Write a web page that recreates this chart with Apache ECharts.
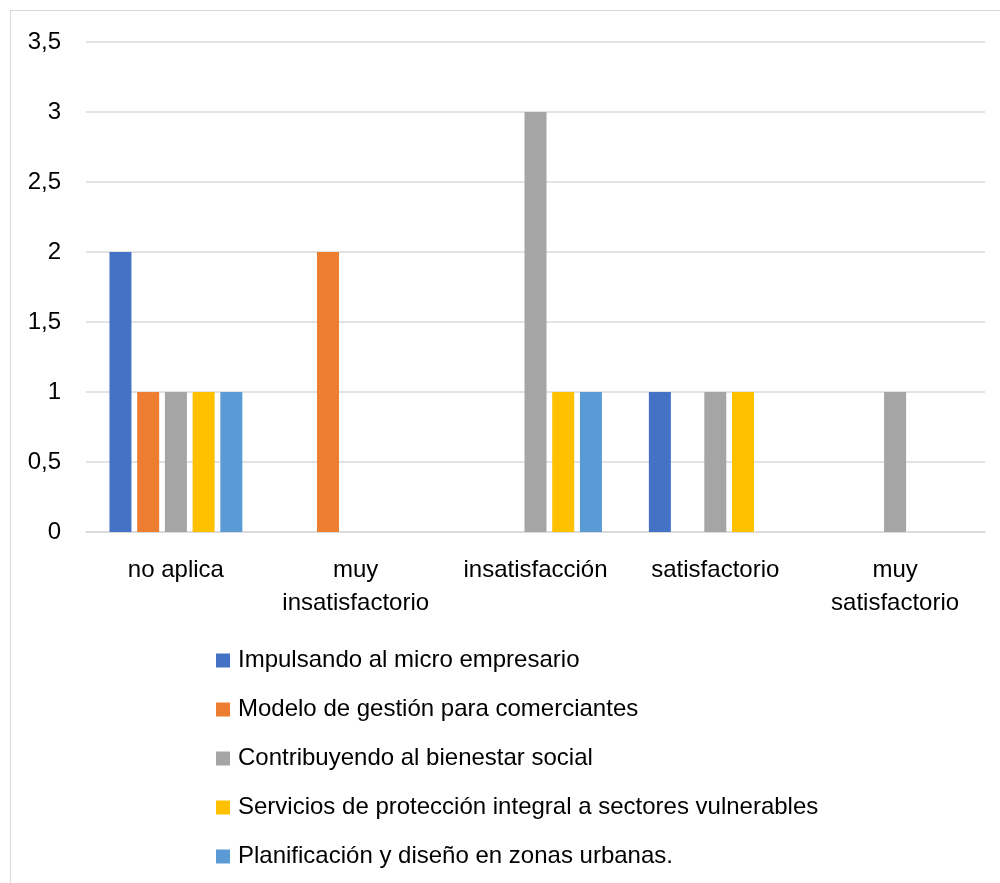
<!DOCTYPE html>
<html>
<head>
<meta charset="utf-8">
<script src="https://cdn.jsdelivr.net/npm/echarts@6/dist/echarts.min.js"></script>
<style>
html,body{margin:0;padding:0;background:#fff;overflow:hidden;}
#frame{position:absolute;left:10px;top:10px;width:1100px;height:1000px;border:1px solid #d9d9d9;box-sizing:border-box;}
#chart{position:absolute;left:0;top:0;width:1000px;height:883px;}
</style>
</head>
<body>
<div id="frame"></div>
<div id="chart"></div>
<script>
var categories = ['no aplica', 'muy\ninsatisfactorio', 'insatisfacción', 'satisfactorio', 'muy\nsatisfactorio'];
var seriesNames = [
  'Impulsando al micro empresario',
  'Modelo de gestión para comerciantes',
  'Contribuyendo al bienestar social',
  'Servicios de protección integral a sectores vulnerables',
  'Planificación y diseño en zonas urbanas.'
];
var impulsando = [2, 0, 0, 1, 0];
var modelo = [1, 2, 0, 0, 0];
var contribuyendo = [1, 0, 3, 1, 1];
var servicios = [1, 0, 1, 1, 0];
var planificacion = [1, 0, 1, 0, 0];
var yTicks = [0, 0.5, 1, 1.5, 2, 2.5, 3, 3.5];
var colors = ['#4472C4', '#ED7D31', '#A5A5A5', '#FFC000', '#5B9BD5'];

var FONT = "'Liberation Sans', Arial, sans-serif";
var FS = 24;
var values = [impulsando, modelo, contribuyendo, servicios, planificacion];

var chart = echarts.init(document.getElementById('chart'), null, {renderer: 'canvas'});
var series = values.map(function (v, i) {
  return {
    name: seriesNames[i],
    type: 'bar',
    data: v.map(function (d) { return d === 0 ? null : d; }),
    barWidth: 22,
    barGap: '26%',
    itemStyle: {color: colors[i]}
  };
});
chart.setOption({
  animation: false,
  backgroundColor: 'transparent',
  color: colors,
  grid: {left: 86, right: 15, top: 42, bottom: 351, containLabel: false},
  xAxis: {
    type: 'category',
    data: categories,
    axisLine: {show: true, lineStyle: {color: '#d9d9d9', width: 1.5}},
    axisTick: {show: false},
    axisLabel: {
      interval: 0,
      margin: 22,
      color: '#000',
      fontFamily: FONT,
      fontSize: FS,
      lineHeight: 33
    }
  },
  yAxis: {
    type: 'value',
    min: yTicks[0],
    max: yTicks[yTicks.length - 1],
    interval: 0.5,
    axisLine: {show: false},
    axisTick: {show: false},
    splitLine: {lineStyle: {color: '#d9d9d9', width: 1.5}},
    axisLabel: {
      margin: 25,
      color: '#000',
      fontFamily: FONT,
      fontSize: FS,
      formatter: function (v) { return String(v).replace('.', ','); }
    }
  },
  legend: {
    orient: 'vertical',
    left: 216,
    top: 646,
    padding: 0,
    itemWidth: 14,
    itemHeight: 14,
    itemGap: 20,
    icon: 'rect',
    textStyle: {
      color: '#000',
      fontFamily: FONT,
      fontSize: FS,
      lineHeight: 29,
      padding: [0, 0, 0, 3]
    },
    data: seriesNames
  },
  series: series
});
</script>
</body>
</html>
